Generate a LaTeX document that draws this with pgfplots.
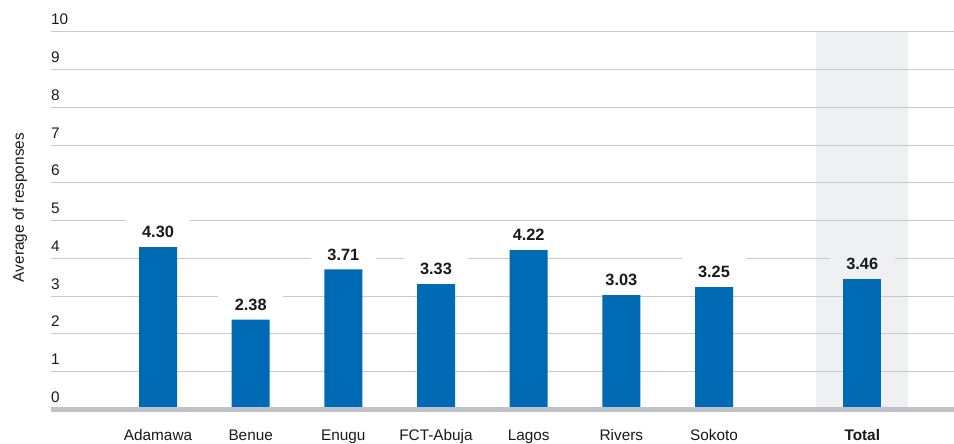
\documentclass[border=0pt]{standalone}
\usepackage{fontspec}
\setmainfont{Liberation Sans}
\usepackage{pgfplots}
\pgfplotsset{compat=1.18}

\definecolor{barblue}{RGB}{0,106,180}
\definecolor{gridgrey}{RGB}{198,202,208}
\definecolor{basegrey}{RGB}{190,194,200}
\definecolor{bandgrey}{RGB}{239,240,242}
\definecolor{txt}{RGB}{25,25,25}

\pgfplotsset{
  valuelabels/.style={
    nodes near coords={\pgfmathprintnumber[fixed,fixed zerofill,precision=2]{\pgfplotspointmeta}},
    every node near coord/.append style={font=\fontsize{16.4}{19}\selectfont\bfseries,
      text=txt, fill=#1, inner xsep=16.5bp, inner ysep=9bp, anchor=south},
  },
}

\begin{document}
\begin{tikzpicture}[font=\fontsize{15.4}{18}\selectfont]
\begin{axis}[
  set layers,
  scale only axis,
  width=903bp, height=377.5bp,
  xmin=-1.155, xmax=8.59,
  ymin=0, ymax=10,
  clip=false,
  axis line style={draw=none},
  ytick={0,1,...,10},
  xtick={0,1,2,3,4,5,6,7.6},
  xticklabels={Adamawa,Benue,Enugu,FCT-Abuja,Lagos,Rivers,Sokoto,\textbf{Total}},
  major tick length=0pt,
  ymajorgrids,
  grid style={gridgrey, line width=1bp},
  /pgf/number format/assume math mode=true,
  tick label style={font=\fontsize{15.4}{18}\selectfont, text=txt},
  yticklabel style={anchor=base west, inner sep=0pt, xshift=0pt, yshift=7bp},
  xticklabel style={anchor=base, inner sep=0pt, yshift=-30.5bp},
  ylabel={Average of responses},
  ylabel style={at={(axis description cs:-0.0343,0.535)}, anchor=center,
                font=\fontsize{15.4}{18}\selectfont, text=txt},
  ybar, bar shift=0pt,
]
% shaded column behind the overall figure
\addplot[bar width=0.99, fill=bandgrey, draw=none, on layer=axis background, forget plot]
  coordinates {(7.6,10)};

\addplot[bar width=38bp, fill=barblue, draw=none, valuelabels=white]
  coordinates {(0,4.30) (1,2.38) (2,3.71) (3,3.33) (4,4.22) (5,3.03) (6,3.25)};
\addplot[bar width=38bp, fill=barblue, draw=none, valuelabels=bandgrey]
  coordinates {(7.6,3.46)};

% baseline
\draw[basegrey, line width=5bp] (rel axis cs:0,0) -- (rel axis cs:1,0);
\end{axis}
% page area: 51bp left of the plot area, 32bp above it, 34.5bp below it
\pgfresetboundingbox
\path (-51bp,-34.5bp) rectangle (903bp,409.5bp);
\end{tikzpicture}
\end{document}
